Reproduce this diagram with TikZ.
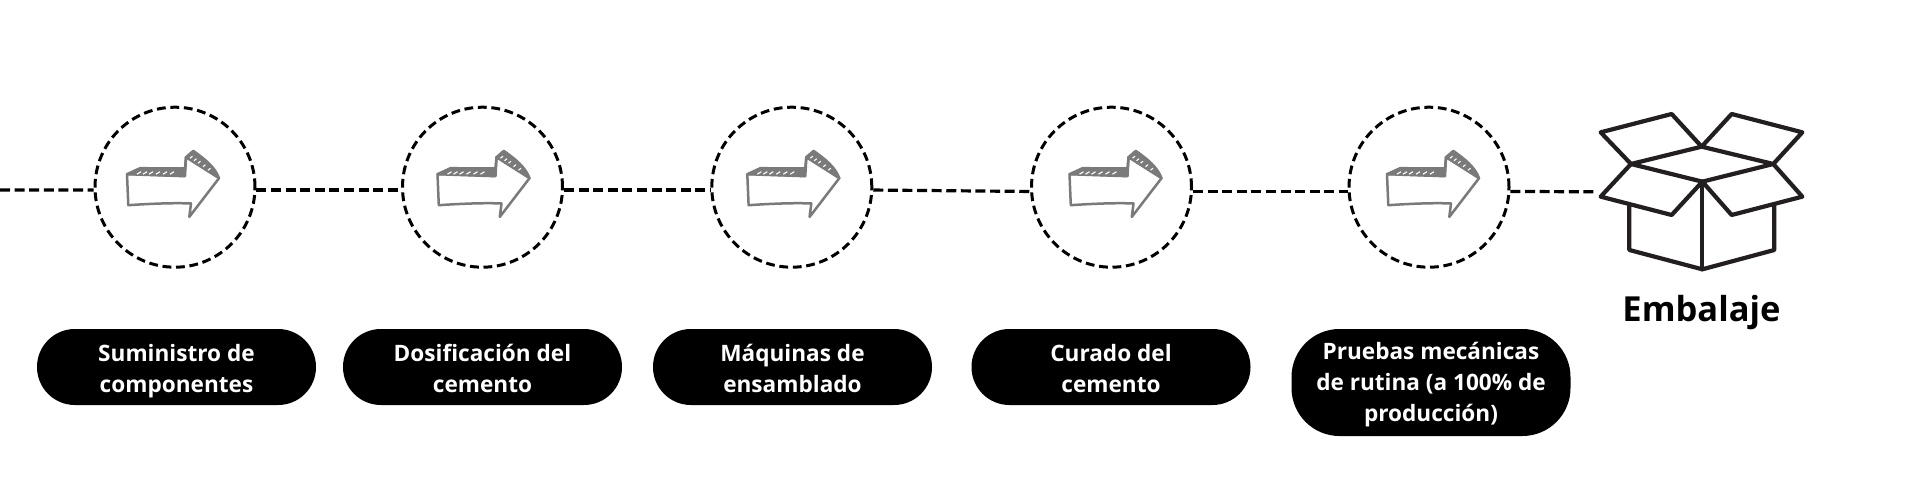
\documentclass[tikz,border=0pt]{standalone}
\usepackage{fontspec}
\setmainfont{Open Sans}
\newcommand{\pltwo}{\rule[-5pt]{0pt}{30pt}}
\newcommand{\plthree}{\rule[-7pt]{0pt}{30pt}}
\tikzset{
  x=1pt,y=-1pt,
  stepcircle/.style={circle,draw=black,line width=3pt,dash pattern=on 8.8pt off 4.7pt,minimum size=160pt,inner sep=0pt},
  link/.style={draw=black,line width=3.2pt,dash pattern=on 10pt off 4.6pt},
  pill/.style={fill=black,text=white,font=\fontsize{22.6}{31}\selectfont\bfseries,align=center,minimum width=279pt,inner sep=0pt},
  pilltwo/.style={pill,minimum height=76pt,rounded corners=37.9pt},
  pillthree/.style={pill,minimum height=107pt,rounded corners=48pt},
  boxline/.style={draw=boxcol,line width=4.2pt,line join=round,line cap=round},
  arrowline/.style={draw=arrowgray,line width=2.5pt,line join=round,line cap=round},
  arrowhatch/.style={fill=arrowgray},
  arrowgap/.style={draw=white,line width=1.1pt},
  pics/sketcharrow/.style={code={
    \path[arrowhatch] (-48,-13) -- (-35,-19) -- (10,-18.7) -- (10,-10) -- (-48,-12) -- cycle;
    \path[arrowhatch] (11,-30) -- (18.3,-36.3) .. controls (30,-28) and (40,-20) .. (44,-9) -- (24,-22) -- cycle;
    \draw[arrowline] (-48,-13) -- (-35,-19) -- (10,-18.7) -- (11,-30) -- (18.3,-36.3)
      .. controls (30,-28) and (40,-20) .. (44,-9) -- (14.3,29.7) -- (16,16.3)
      .. controls (0,15.5) and (-25,16.5) .. (-46.7,18) -- cycle;
    \draw[arrowline] (-48,-13) -- (10,-11) -- (11,-30) -- (44,-9);
    \foreach \a in {-38,-32,-26,-19,-12,-5}
      \draw[arrowgap] (\a,-13) -- (\a+4,-15.5);
    \foreach \a/\b in {15/-29,19/-26.5,23/-24,28/-20.5,33/-17}
      \draw[arrowgap] (\a,\b) -- (\a+2.5,\b-2);
  }}
}
\definecolor{boxcol}{HTML}{231F20}
\definecolor{arrowgray}{HTML}{7A7A7A}
\begin{document}
\begin{tikzpicture}
\useasboundingbox (0,0) rectangle (1920,492);
\fill[white] (0,0) rectangle (1920,492);

\node[stepcircle] (c1) at (175,187.2) {};
\node[stepcircle] (c2) at (482.5,187.2) {};
\node[stepcircle] (c3) at (791.8,187.2) {};
\node[stepcircle] (c4) at (1111.5,187.2) {};
\node[stepcircle] (c5) at (1429,187.2) {};

\pic at (c1.center) {sketcharrow};
\pic[xshift=3pt] at (c2.center) {sketcharrow};
\pic[xshift=3.5pt] at (c3.center) {sketcharrow};
\pic[xshift=6pt] at (c4.center) {sketcharrow};
\pic[xshift=6pt] at (c5.center) {sketcharrow};

\coordinate (linestart) at (0,190);
\coordinate (boxin) at (1597,191.8);
\draw[link] (linestart) -- (c1.182);
\draw[link] (c1.-2) -- (c2.182);
\draw[link] (c2.-2) -- (c3.182);
\draw[link] (c3.-2) -- (c4.183);
\draw[link] (c4.-3) -- (c5.183);
\draw[link] (c5.-3) -- (boxin);

\node[pilltwo] (p1) at (176.5,367) {\pltwo Suministro de\\\pltwo componentes};
\node[pilltwo] (p2) at (482.5,367) {\pltwo Dosificación del\\\pltwo cemento};
\node[pilltwo] (p3) at (792.5,367) {\pltwo Máquinas de\\\pltwo ensamblado};
\node[pilltwo] (p4) at (1111,367) {\pltwo Curado del\\\pltwo cemento};
\node[pillthree] (p5) at (1431,382.5) {\plthree Pruebas mecánicas\\\plthree de rutina (a 100\% de\\\plthree producción)};

\begin{scope}[shift={(1570,100)},x=0.3333pt,y=-0.3333pt]
\draw[boxline] (92,97) -- (305,42) -- (395,140) -- (183,192) -- cycle;
\draw[boxline] (485,42) -- (697,97) -- (610,192) -- (395,140) -- cycle;
\draw[boxline] (183,192) -- (397,245) -- (610,192);
\draw[boxline] (183,192) -- (92,290) -- (305,345) -- (397,245);
\draw[boxline] (610,192) -- (697,290) -- (485,345) -- (397,245);
\draw[boxline] (178,318) -- (178,450) -- (397,508) -- (613,450) -- (613,318);
\draw[boxline] (397,245) -- (397,508);
\end{scope}

\node[font=\fontsize{34.5}{40}\selectfont\bfseries,anchor=base,inner sep=0pt] (label) at (1701.5,321) {Embalaje};
\end{tikzpicture}
\end{document}
